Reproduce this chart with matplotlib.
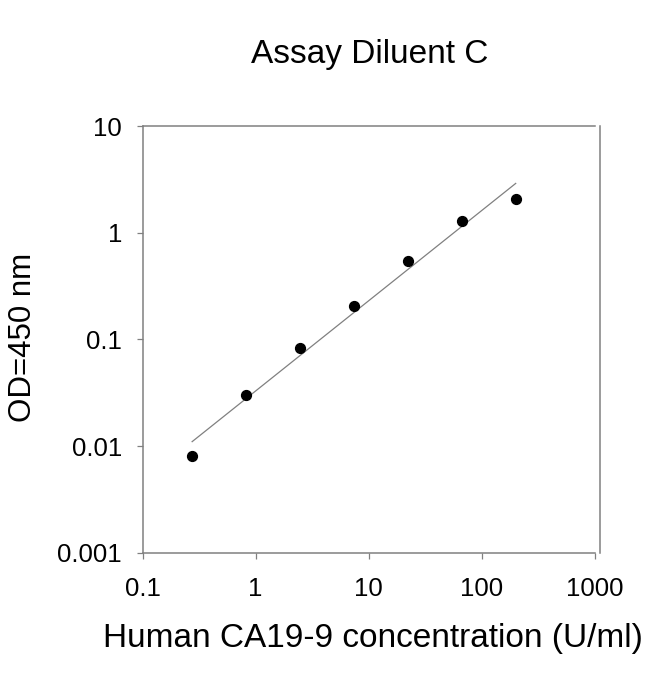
import numpy as np
import matplotlib
matplotlib.use("Agg")
import matplotlib.pyplot as plt
from matplotlib.ticker import FixedLocator, NullLocator

plt.rcParams['font.family'] = ['Liberation Sans', 'DejaVu Sans']

# standard curve, 3-fold dilutions
conc = [0.274, 0.823, 2.47, 7.41, 22.2, 66.7, 200]
od = [0.0080, 0.030, 0.083, 0.206, 0.537, 1.28, 2.05]

xticks = [0.1, 1, 10, 100, 1000]
xtick_labels = ["0.1", "1", "10", "100", "1000"]
yticks = [0.001, 0.01, 0.1, 1, 10]
ytick_labels = ["0.001", "0.01", "0.1", "1", "10"]

# power fit (straight line in log-log), drawn over the data range
slope, icpt = np.polyfit(np.log10(conc), np.log10(od), 1)
xfit = np.array([conc[0], conc[-1]])
yfit = 10 ** (icpt + slope * np.log10(xfit))

fig = plt.figure(figsize=(6.5, 6.74), dpi=100)
ax = fig.add_axes([0.2195, 0.18, 0.6954, 0.633])

ax.plot(xfit, yfit, color="#808080", lw=0.9)
ax.scatter(conc, od, s=50, color="black", zorder=3)

ax.set_xscale("log")
ax.set_yscale("log")
ax.set_xlim(0.1, 1000)
ax.set_ylim(0.001, 10)
ax.xaxis.set_major_locator(FixedLocator(xticks))
ax.yaxis.set_major_locator(FixedLocator(yticks))
ax.xaxis.set_minor_locator(NullLocator())
ax.yaxis.set_minor_locator(NullLocator())
ax.set_xticklabels(xtick_labels)
ax.set_yticklabels(ytick_labels)

for sp in ax.spines.values():
    sp.set_color("#808080")
    sp.set_linewidth(1.1)
ax.spines["right"].set_position(("outward", 3.5))

ax.tick_params(direction="out", length=4.3, width=0.9, color="#808080",
               labelsize=18.5, labelcolor="black")
ax.tick_params(axis="x", pad=13.5)
ax.tick_params(axis="y", pad=10.5)

fig.text(0.569, 0.906, "Assay Diluent C", fontsize=24, ha="center", va="baseline")
fig.text(0.574, 0.0396, "Human CA19-9 concentration (U/ml)", fontsize=24,
         ha="center", va="baseline")
fig.text(0.035, 0.499, "OD=450 nm", fontsize=22.5, rotation=90,
         ha="center", va="center")

fig.savefig("out.png", dpi=100, facecolor="white")
